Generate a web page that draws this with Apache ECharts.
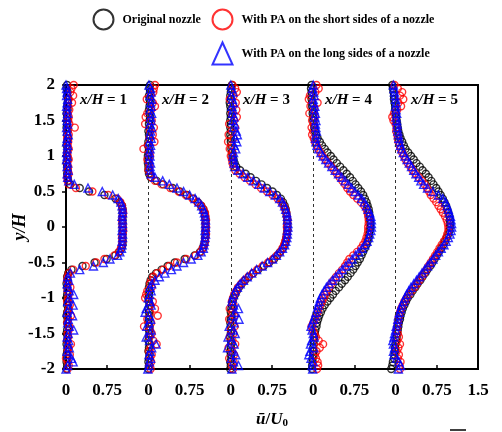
<!DOCTYPE html>
<html><head><meta charset="utf-8">
<script src="https://cdn.jsdelivr.net/npm/echarts@6/dist/echarts.min.js"></script>
<style>html,body{margin:0;padding:0;background:#fff}#c{width:502px;height:432px}</style>
</head><body><div id="c"></div><script>
// ---- data ----
const yOverH = [2.00,1.95,1.90,1.85,1.80,1.75,1.70,1.65,1.60,1.55,1.50,1.45,1.40,1.35,1.30,1.25,1.20,1.15,1.10,1.05,1.00,0.95,0.90,0.85,0.80,0.75,0.70,0.65,0.60,0.55,0.50,0.45,0.40,0.35,0.30,0.25,0.20,0.15,0.10,0.05,0.00,-0.05,-0.10,-0.15,-0.20,-0.25,-0.30,-0.35,-0.40,-0.45,-0.50,-0.55,-0.60,-0.65,-0.70,-0.75,-0.80,-0.85,-0.90,-0.95,-1.00,-1.05,-1.10,-1.15,-1.20,-1.25,-1.30,-1.35,-1.40,-1.45,-1.50,-1.55,-1.60,-1.65,-1.70,-1.75,-1.80,-1.85,-1.90,-1.95,-2.00];

const seriesNames = ['Original nozzle','With PA on the short sides of a nozzle','With PA on the long sides of a nozzle'];
const panelLabels = ['1','2','3','4','5'];
const xTickLabels = ['0','0.75','0','0.75','0','0.75','0','0.75','0','0.75','1.5'];

// x/H = 1
const orig1 = [0.02,0.01,0.03,0.02,0.04,0.03,0.02,0.03,0.01,0.02,
 0.03,0.02,0.01,0.03,0.02,0.04,0.02,0.01,0.03,0.02,
 0.02,0.03,0.01,0.02,0.03,0.02,0.03,0.04,0.08,0.25,
 0.42,0.70,0.90,0.98,1.02,1.03,1.03,1.03,1.03,1.03,
 1.03,1.03,1.03,1.03,1.03,1.03,1.01,0.97,0.90,0.74,
 0.52,0.30,0.10,0.04,0.02,0.03,0.01,0.02,0.03,0.02,
 0.01,0.03,0.02,0.04,0.02,0.01,0.03,0.02,0.04,0.02,
 0.01,0.03,0.02,0.01,0.03,0.02,0.01,0.02,0.01,0.02,
 0.01];
const short1 = [0.14,0.10,0.08,0.13,0.05,0.11,0.04,0.06,0.03,0.05,
 0.04,0.06,0.16,0.03,0.05,0.02,0.04,0.03,0.05,0.02,
 0.03,0.05,0.02,0.04,0.03,0.05,0.02,0.03,0.05,0.18,
 0.48,0.77,0.93,0.99,1.02,1.03,1.04,1.03,1.02,1.03,
 1.03,1.04,1.03,1.02,1.03,1.02,1.00,0.96,0.88,0.70,
 0.55,0.36,0.13,0.05,0.03,0.02,0.04,0.08,0.03,0.05,
 0.04,0.02,0.07,0.05,0.03,0.09,0.04,0.02,0.06,0.05,
 0.03,0.04,0.02,0.09,0.05,0.03,0.07,0.00,0.03,0.05,
 0.03];
const long1 = [0.00,0.01,0.02,0.01,0.03,0.02,0.01,0.02,0.03,0.01,
 0.02,0.03,0.01,0.02,0.04,0.02,0.01,0.03,0.02,0.01,
 0.02,0.01,0.03,0.02,0.04,0.02,0.03,0.05,0.15,0.40,
 0.66,0.85,0.95,1.00,1.02,1.03,1.03,1.02,1.03,1.03,
 1.03,1.02,1.03,1.03,1.02,1.02,1.01,0.98,0.94,0.80,
 0.68,0.50,0.25,0.08,0.03,0.05,0.02,0.04,0.06,0.14,
 0.06,0.03,0.13,0.05,0.02,0.12,0.04,0.03,0.06,0.14,
 0.04,0.02,0.05,0.03,0.06,0.02,0.04,0.10,0.13,0.03,
 0.00];

// x/H = 2
const orig2 = [0.03,0.02,0.03,0.01,0.02,0.03,0.02,0.01,0.02,0.03,
 0.02,0.01,0.02,0.00,0.01,0.02,0.00,-0.01,0.01,0.00,
 -0.01,0.00,-0.01,0.00,0.00,0.01,0.04,0.15,0.27,0.44,
 0.57,0.70,0.82,0.90,0.96,1.00,1.02,1.03,1.04,1.04,
 1.04,1.04,1.04,1.03,1.03,1.01,0.99,0.94,0.84,0.66,
 0.48,0.35,0.24,0.14,0.07,0.04,0.02,0.01,0.02,0.01,
 0.00,0.01,0.02,0.00,0.01,0.02,0.01,0.00,0.02,0.01,
 0.02,0.01,0.00,0.02,0.01,0.00,0.02,0.01,0.00,0.01,
 0.00];
const short2 = [0.12,0.10,0.09,0.04,-0.03,0.08,0.12,0.05,-0.02,-0.05,
 0.06,-0.06,0.10,0.03,0.08,0.02,0.11,-0.01,-0.09,0.02,
 0.03,-0.02,0.01,0.02,0.00,0.03,0.05,0.12,0.24,0.40,
 0.55,0.68,0.80,0.89,0.96,1.00,1.03,1.04,1.05,1.04,
 1.05,1.04,1.05,1.04,1.03,1.02,0.99,0.95,0.86,0.69,
 0.52,0.38,0.27,0.16,0.09,0.05,0.03,0.06,-0.02,-0.04,
 -0.06,0.08,0.04,0.12,0.03,0.17,-0.02,0.05,-0.08,0.03,
 0.06,0.02,0.09,0.15,0.04,0.01,0.06,0.03,0.05,0.02,
 0.04];
const long2 = [0.01,0.04,0.05,0.03,0.06,0.04,0.05,0.03,0.06,0.04,
 0.05,0.03,0.06,0.04,0.03,0.05,0.02,0.04,0.03,0.02,
 0.03,0.02,0.04,0.03,0.04,0.05,0.12,0.26,0.38,0.52,
 0.64,0.75,0.85,0.92,0.97,1.00,1.02,1.03,1.04,1.04,
 1.04,1.03,1.04,1.03,1.02,1.01,1.00,0.96,0.90,0.78,
 0.64,0.52,0.42,0.30,0.20,0.12,0.06,0.03,0.05,0.02,
 0.00,0.03,0.05,-0.04,-0.06,0.02,0.04,0.01,-0.03,0.05,
 0.03,-0.04,0.02,0.14,0.06,0.03,0.01,0.04,0.02,0.01,
 -0.01];

// x/H = 3
const orig3 = [0.02,0.01,0.00,-0.01,0.00,-0.02,-0.01,0.00,-0.01,0.00,
 -0.01,0.00,-0.01,0.00,-0.01,0.00,0.00,0.01,0.01,0.02,
 0.03,0.05,0.07,0.10,0.17,0.27,0.36,0.46,0.56,0.66,
 0.76,0.84,0.91,0.95,0.98,1.00,1.01,1.02,1.03,1.03,
 1.03,1.03,1.02,1.01,1.00,0.98,0.95,0.90,0.85,0.79,
 0.70,0.60,0.50,0.41,0.33,0.26,0.20,0.15,0.11,0.08,
 0.05,0.03,0.02,0.01,0.00,0.01,0.00,-0.01,0.00,0.01,
 0.00,-0.01,0.00,0.01,0.00,-0.01,0.00,0.01,-0.01,0.00,
 -0.01];
const short3 = [0.03,0.08,0.11,0.05,-0.02,0.09,0.04,0.10,0.02,0.11,
 0.06,-0.03,0.08,0.02,-0.04,0.05,-0.05,0.01,-0.02,0.03,
 0.00,0.02,0.03,0.05,0.08,0.16,0.25,0.35,0.45,0.55,
 0.66,0.76,0.85,0.92,0.96,0.99,1.01,1.02,1.03,1.03,
 1.02,1.03,1.02,1.01,0.99,0.97,0.94,0.90,0.84,0.77,
 0.68,0.58,0.48,0.40,0.32,0.25,0.19,0.13,0.10,0.06,
 0.04,0.02,0.05,-0.02,0.03,0.06,-0.03,0.04,0.07,0.00,
 0.05,-0.02,0.03,0.08,-0.04,0.02,0.06,-0.03,0.05,0.02,
 0.04];
const long3 = [0.00,0.02,0.04,0.01,0.03,0.05,0.02,0.04,0.03,0.06,
 0.04,0.07,0.05,0.10,0.12,0.08,0.11,0.06,0.09,0.05,
 0.04,0.05,0.06,0.07,0.13,0.22,0.31,0.41,0.51,0.61,
 0.71,0.81,0.89,0.94,0.98,1.00,1.02,1.03,1.03,1.04,
 1.04,1.03,1.03,1.02,1.00,0.98,0.94,0.89,0.83,0.76,
 0.67,0.57,0.47,0.38,0.30,0.23,0.17,0.12,0.08,0.05,
 0.03,0.02,0.05,0.14,0.08,0.03,0.15,0.06,-0.03,0.04,
 0.08,-0.05,0.02,0.06,-0.06,0.03,0.09,0.01,0.05,0.14,
 0.02];

// x/H = 4
const orig4 = [-0.03,-0.04,-0.03,-0.03,-0.03,-0.02,-0.02,-0.01,-0.01,0.00,
 0.00,0.01,0.02,0.03,0.05,0.08,0.12,0.16,0.21,0.26,
 0.32,0.37,0.43,0.49,0.55,0.61,0.67,0.72,0.77,0.82,
 0.87,0.91,0.94,0.97,0.99,1.01,1.02,1.03,1.03,1.04,
 1.04,1.03,1.02,1.01,0.99,0.97,0.94,0.91,0.88,0.85,
 0.81,0.77,0.73,0.68,0.63,0.58,0.52,0.47,0.41,0.36,
 0.31,0.26,0.21,0.17,0.14,0.11,0.09,0.07,0.06,0.04,
 0.03,0.02,0.01,0.01,0.00,0.00,0.00,-0.01,-0.01,-0.02,
 -0.02];
const short4 = [0.06,0.10,0.04,-0.06,-0.08,0.08,-0.05,0.02,-0.07,0.03,
 -0.02,0.01,-0.03,0.00,-0.02,0.01,0.03,0.06,0.09,0.13,
 0.17,0.22,0.27,0.33,0.38,0.43,0.48,0.53,0.58,0.62,
 0.67,0.73,0.80,0.87,0.93,0.97,0.99,1.00,1.01,1.01,
 1.00,1.00,0.99,0.97,0.95,0.91,0.87,0.80,0.73,0.66,
 0.62,0.58,0.53,0.47,0.42,0.37,0.33,0.29,0.25,0.22,
 0.19,0.16,0.13,0.10,0.08,0.05,0.03,0.00,-0.03,-0.01,
 0.02,0.05,0.10,0.18,0.12,0.06,0.03,0.05,0.08,0.09,
 0.07];
const long4 = [0.00,-0.01,0.01,0.02,0.00,0.01,0.03,0.02,0.04,0.03,
 0.05,0.04,0.05,0.06,0.05,0.04,0.05,0.07,0.10,0.14,
 0.18,0.23,0.28,0.34,0.40,0.46,0.52,0.58,0.64,0.70,
 0.76,0.82,0.88,0.93,0.97,1.00,1.03,1.05,1.06,1.06,
 1.06,1.05,1.03,1.01,0.98,0.94,0.89,0.83,0.77,0.71,
 0.65,0.59,0.53,0.47,0.41,0.35,0.29,0.24,0.20,0.16,
 0.13,0.11,0.09,0.07,0.05,0.03,0.01,-0.02,-0.04,-0.02,
 0.00,0.02,-0.03,-0.05,0.01,-0.06,-0.08,-0.04,0.00,-0.02,
 -0.01];

// x/H = 5
const orig5 = [-0.06,-0.05,-0.04,-0.03,-0.03,-0.02,-0.01,-0.01,0.00,0.01,
 0.02,0.03,0.04,0.05,0.07,0.09,0.12,0.15,0.18,0.23,
 0.28,0.33,0.38,0.44,0.49,0.55,0.60,0.65,0.69,0.74,
 0.78,0.82,0.86,0.89,0.92,0.94,0.96,0.98,0.99,0.99,
 0.99,0.98,0.96,0.93,0.90,0.87,0.83,0.79,0.75,0.71,
 0.67,0.63,0.58,0.54,0.49,0.45,0.40,0.36,0.31,0.27,
 0.22,0.19,0.16,0.13,0.11,0.09,0.08,0.06,0.05,0.04,
 0.03,0.02,0.01,0.00,-0.01,-0.01,-0.02,-0.03,-0.05,-0.06,
 -0.08];
const short5 = [-0.02,0.04,0.12,0.08,0.14,0.05,0.10,0.03,-0.03,-0.06,
 -0.04,0.00,0.02,0.01,0.03,0.04,0.05,0.07,0.09,0.12,
 0.15,0.18,0.22,0.27,0.31,0.36,0.42,0.48,0.53,0.57,
 0.61,0.64,0.69,0.74,0.78,0.82,0.86,0.90,0.93,0.95,
 0.96,0.96,0.94,0.92,0.88,0.84,0.80,0.76,0.72,0.68,
 0.64,0.60,0.56,0.52,0.48,0.43,0.39,0.34,0.29,0.24,
 0.20,0.16,0.13,0.10,0.08,0.06,0.05,0.04,0.03,0.02,
 0.04,0.06,0.03,0.08,0.05,0.02,0.06,0.04,0.09,0.07,
 0.08];
const long5 = [-0.04,-0.03,-0.02,-0.01,0.00,0.01,0.00,0.01,0.02,0.01,
 0.02,0.03,0.03,0.04,0.05,0.06,0.07,0.09,0.11,0.14,
 0.17,0.21,0.25,0.29,0.33,0.37,0.42,0.46,0.51,0.58,
 0.68,0.78,0.86,0.91,0.94,0.96,0.98,1.00,1.01,1.02,
 1.02,1.01,0.99,0.96,0.92,0.88,0.83,0.78,0.73,0.68,
 0.63,0.58,0.53,0.48,0.43,0.38,0.33,0.28,0.24,0.20,
 0.17,0.14,0.11,0.09,0.07,0.05,0.04,0.03,0.01,0.00,
 -0.02,-0.03,-0.05,-0.04,-0.02,-0.04,-0.03,0.02,0.06,0.09,
 0.05];

// ---- build ----
const FONT = '"Liberation Serif","Times New Roman",serif';
const PANEL_STEP = 1.5; // each profile is shifted by 1.5 on the shared x axis
function build(list) {
  const out = [];
  list.forEach((arr, p) => arr.forEach((u, i) => out.push([p * PANEL_STEP + u, yOverH[i]])));
  return out;
}
const tickFont = {color:'#000', fontFamily:FONT, fontWeight:'bold', fontSize:17};

const chart = echarts.init(document.getElementById('c'), null, {renderer:'canvas'});
const legendCommon = {
  orient:'horizontal', itemWidth:20, itemHeight:22, itemGap:0, padding:0, selectedMode:false,
  itemStyle:{borderWidth:2},
  textStyle:{fontFamily:FONT, fontWeight:'bold', fontSize:12, color:'#000', padding:[0,0,0,4]}
};
const panelLabelX = [80, 162, 243, 325, 411];
const labelStyle = {
  i:{fontFamily:FONT, fontStyle:'italic', fontWeight:'bold', fontSize:15, fill:'#000'},
  n:{fontFamily:FONT, fontWeight:'bold', fontSize:15, fill:'#000'}
};

chart.setOption({
  animation:false,
  backgroundColor:'#fff',
  grid:{left:66, right:24, top:85, bottom:63, outerBoundsMode:'none', containLabel:false,
        show:true, borderColor:'#000', borderWidth:2, backgroundColor:'transparent'},
  legend:[
    Object.assign({data:[seriesNames[0]], left:91, top:7}, legendCommon),
    Object.assign({data:[seriesNames[1]], left:210, top:7}, legendCommon),
    Object.assign({data:[seriesNames[2]], left:210, top:40}, legendCommon)
  ],
  xAxis:{
    type:'value', min:0, max:7.5, interval:0.75,
    axisLine:{onZero:false, lineStyle:{color:'#000', width:2}},
    axisTick:{inside:true, length:4, lineStyle:{color:'#000', width:1.5}},
    splitLine:{show:false},
    axisLabel:Object.assign({margin:13, formatter:(v)=>{const k=Math.round(v/0.75); return xTickLabels[k]!==undefined?xTickLabels[k]:'';}}, tickFont),
    name:'{u|ū}{n|/}{U|U}{z|0}', nameLocation:'middle', nameGap:41,
    nameTextStyle:{rich:{
      u:{fontFamily:FONT, fontStyle:'italic', fontWeight:'bold', fontSize:17, color:'#000'},
      n:{fontFamily:FONT, fontWeight:'bold', fontSize:17, color:'#000'},
      U:{fontFamily:FONT, fontStyle:'italic', fontWeight:'bold', fontSize:17, color:'#000'},
      z:{fontFamily:FONT, fontWeight:'bold', fontSize:11, color:'#000', padding:[8,0,0,0]}
    }}
  },
  yAxis:{
    type:'value', min:-2, max:2, interval:0.5,
    axisLine:{show:true, onZero:false, lineStyle:{color:'#000', width:2}},
    axisTick:{show:true, length:4, lineStyle:{color:'#000', width:1.5}},
    splitLine:{show:false},
    axisLabel:Object.assign({margin:11}, tickFont),
    name:'y/H', nameLocation:'middle', nameGap:37, nameMoveOverlap:false,
    nameTextStyle:{fontFamily:FONT, fontStyle:'italic', fontWeight:'bold', fontSize:18, color:'#000'}
  },
  series:[
    {name:seriesNames[0], type:'scatter', symbol:'circle', symbolSize:7,
     itemStyle:{color:'none', borderColor:'#000', borderWidth:1.4},
     data:build([orig1, orig2, orig3, orig4, orig5]),
     markLine:{silent:true, symbol:'none', label:{show:false}, animation:false,
       lineStyle:{type:[3,3], color:'#333', width:1},
       data:[{xAxis:1.5},{xAxis:3},{xAxis:4.5},{xAxis:6}]}},
    {name:seriesNames[1], type:'scatter', symbol:'circle', symbolSize:7,
     itemStyle:{color:'none', borderColor:'#ff0000', borderWidth:1.4},
     data:build([short1, short2, short3, short4, short5])},
    {name:seriesNames[2], type:'scatter', symbol:'triangle', symbolSize:8,
     itemStyle:{color:'none', borderColor:'#0000ff', borderWidth:1.4},
     data:build([long1, long2, long3, long4, long5])}
  ],
  graphic:[
    ...panelLabels.map((t, k) => ({type:'text', left:panelLabelX[k], top:93, z:100,
      style:{text:'{i|x/H}{n| = ' + t + '}', rich:labelStyle}})),
    {type:'line', shape:{x1:450, y1:430, x2:466, y2:430}, style:{stroke:'#000', lineWidth:1.5}}
  ]
});
</script></body></html>
